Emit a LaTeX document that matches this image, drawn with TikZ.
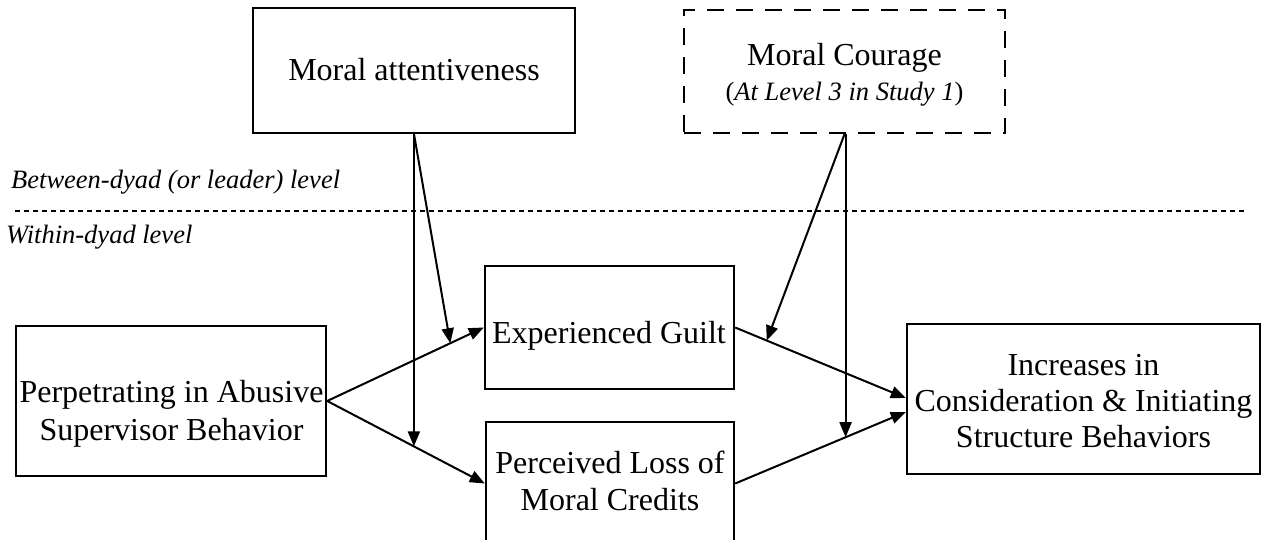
\documentclass[tikz,border=0pt]{standalone}
\usepackage{fontspec}
\setmainfont{Liberation Serif}
\usetikzlibrary{arrows.meta,calc}
\begin{document}
\begin{tikzpicture}[x=1pt,y=-1pt,
  box/.style={draw, line width=2.4pt, rectangle, inner sep=0pt},
  dbox/.style={box, dash pattern=on 17pt off 12pt},
  txt/.style={anchor=base, inner sep=0pt, align=center, font=\fontsize{32}{37}\selectfont},
  arr/.style={line width=2pt, -{Triangle[length=15pt,width=12pt]}},
  lvl/.style={anchor=base west, inner sep=0pt, font=\fontsize{26.5}{30}\selectfont\itshape},
  divider/.style={line width=1.1pt, dash pattern=on 5pt off 4pt}]
\useasboundingbox (0,0) rectangle (1267,539);

% boxes
\node[box, minimum width=322pt, minimum height=125pt] (MA) at (414,70.5) {};
\node[dbox, minimum width=321pt, minimum height=123pt] (MC) at (844.5,71.5) {};
\node[box, minimum width=310pt, minimum height=150pt] (Perp) at (171,401) {};
\node[box, minimum width=249pt, minimum height=123pt] (EG) at (609.5,327.5) {};
\node[box, minimum width=248pt, minimum height=123pt] (PLMC) at (610,483.5) {};
\node[box, minimum width=353pt, minimum height=150pt] (Inc) at (1083.5,399) {};

% texts (base anchor = baseline of the last line)
\node[txt] (MAt) at (414,80) {Moral attentiveness};
\node[txt, font=\fontsize{32}{35}\selectfont] (MCt) at (844.5,100) {Moral Courage\\{\fontsize{26.5}{30}\selectfont(\textit{At Level 3 in Study 1})}};
\node[txt, font=\fontsize{32}{38}\selectfont] (Perpt) at (171.5,440) {Perpetrating in Abusive\\Supervisor Behavior};
\node[txt] (EGt) at (609,343) {Experienced Guilt};
\node[txt] (PLMCt) at (610,510) {Perceived Loss of\\Moral Credits};
\node[txt, font=\fontsize{32}{36}\selectfont] (Inct) at (1083.5,447) {Increases in\\Consideration \& Initiating\\Structure Behaviors};

% level labels and divider
\node[lvl] (lvlB) at (11,188) {Between-dyad (or leader) level};
\node[lvl] (lvlW) at (6,243) {Within-dyad level};
\coordinate (dl) at (15,211);
\coordinate (dr) at (1245,211);
\draw[divider] (dl) -- (dr);

% main paths
\draw[arr] (Perp.east) -- (EG.west);
\draw[arr] (Perp.east) -- (PLMC.west);
\coordinate (inA) at ($(Inc.west)+(0,-1)$);
\coordinate (inB) at ($(Inc.west)+(0,13)$);
\draw[arr] (EG.east) -- (inA);
\draw[arr] (PLMC.east) -- (inB);

% moderators
\coordinate (ma1) at ($(Perp.east)!0.786!(EG.west)$);
\coordinate (ma2) at ($(Perp.east)!0.55!(PLMC.west)$);
\draw[arr] (MA.south) -- (ma1);
\draw[arr] (MA.south -| ma2) -- (ma2);
\coordinate (mc1) at ($(EG.east)!0.185!(inA)$);
\coordinate (mc2) at ($(PLMC.east)!0.647!(inB)$);
\draw[arr] (MC.south) -- (mc1);
\draw[arr] (MC.south -| mc2) -- (mc2);
\end{tikzpicture}
\end{document}
